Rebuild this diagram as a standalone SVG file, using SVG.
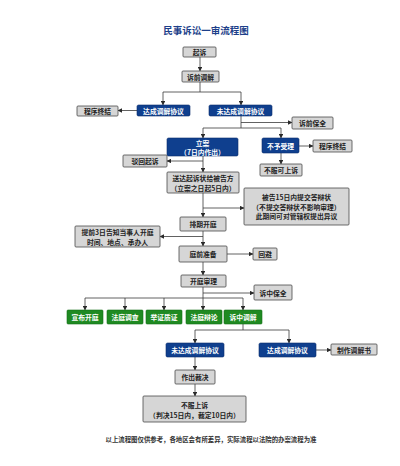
<svg xmlns="http://www.w3.org/2000/svg" width="400" height="466" viewBox="0 0 400 466">
<style>
text{font-family:"Noto Sans CJK SC","Liberation Sans",sans-serif;text-anchor:middle;dominant-baseline:central;font-weight:700}
.g rect{fill:#d6d6d6;stroke:#4a4a4a;stroke-width:0.8}
.g text{fill:#222;font-size:6.8px}
.b rect{fill:#0f3f8e;stroke:#0a2e6b;stroke-width:0.6}
.b text{fill:#fff;font-size:6.8px}
.n rect{fill:#1f8a22;stroke:#16701a;stroke-width:0.6}
.n text{fill:#fff;font-size:6.8px}
#connectors path{fill:none;stroke:#3a3a3a;stroke-width:0.8}
#connectors path.a{marker-end:url(#ah)}
</style>
<defs>
<marker id="ah" viewBox="0 0 6 6" refX="5.5" refY="3" markerWidth="4.5" markerHeight="4.5" orient="auto" markerUnits="userSpaceOnUse">
<path d="M0,0 L6,3 L0,6 z" fill="#2a2a2a"/>
</marker>
</defs>
<rect width="400" height="466" fill="#fff"/>
<text x="206" y="30" font-size="9.5" fill="#1d3f8a">民事诉讼一审流程图</text>

<g id="connectors">
<path class="a" d="M200,57 V71"/>
<path d="M200,82 V92 M163,92 H241"/>
<path class="a" d="M163,92 V105"/>
<path class="a" d="M241,92 V105"/>
<path class="a" d="M137,110.5 H118"/>
<path d="M241,116 V128 M203,128 H281"/>
<path class="a" d="M241,122.5 H292"/>
<path class="a" d="M203,128 V138"/>
<path class="a" d="M281,128 V138"/>
<path class="a" d="M299,146 H313"/>
<path class="a" d="M281,153 V164"/>
<path class="a" d="M203,156 V172"/>
<path class="a" d="M203,161 H167"/>
<path class="a" d="M203,193 V217"/>
<path class="a" d="M203,208 H244"/>
<path class="a" d="M203,231 V246"/>
<path class="a" d="M203,236.5 H160"/>
<path class="a" d="M227,254 H253"/>
<path class="a" d="M203,262 V275"/>
<path d="M203,287 V298 M85,298 H243"/>
<path class="a" d="M203,293 H254"/>
<path class="a" d="M85,298 V310"/>
<path class="a" d="M125,298 V310"/>
<path class="a" d="M164,298 V310"/>
<path class="a" d="M203,298 V310"/>
<path class="a" d="M243,298 V310"/>
<path d="M243,324 V330 M195,330 H289"/>
<path class="a" d="M195,330 V343"/>
<path class="a" d="M289,330 V343"/>
<path class="a" d="M316,350 H331"/>
<path class="a" d="M195,357 V370"/>
<path class="a" d="M195,384 V396"/>
</g>

<g id="n1" class="g"><rect x="183" y="47" width="33" height="10" rx="1"/><text x="199.5" y="52">起诉</text></g>
<g id="n2" class="g"><rect x="182" y="71" width="37" height="11" rx="1"/><text x="200.5" y="76.5">诉前调解</text></g>
<g id="n3" class="b"><rect x="137" y="105" width="53" height="11" rx="1.5"/><text x="163.5" y="110.5">达成调解协议</text></g>
<g id="n4" class="g"><rect x="77" y="106" width="41" height="10" rx="1"/><text x="97.5" y="111">程序终结</text></g>
<g id="n5" class="b"><rect x="209" y="105" width="63" height="11" rx="1.5"/><text x="240.5" y="110.5">未达成调解协议</text></g>
<g id="n6" class="g"><rect x="292" y="117" width="41" height="12" rx="1"/><text x="312.5" y="123">诉前保全</text></g>
<g id="n7" class="b"><rect x="167" y="138" width="71" height="18" rx="1.5"/><text x="202.5" y="143">立案</text><text x="202.5" y="152">（7日内作出）</text></g>
<g id="n8" class="b"><rect x="262" y="138" width="37" height="15" rx="1.5"/><text x="280.5" y="145.5">不予受理</text></g>
<g id="n9" class="g"><rect x="313" y="140" width="39" height="12" rx="1"/><text x="332.5" y="146">程序终结</text></g>
<g id="n10" class="g"><rect x="260" y="164" width="42" height="12" rx="1"/><text x="281" y="170">不服可上诉</text></g>
<g id="n11" class="g"><rect x="123" y="155" width="44" height="12" rx="1"/><text x="145" y="161">驳回起诉</text></g>
<g id="n12" class="g"><rect x="167" y="172" width="72" height="21" rx="1"/><text x="203" y="177.5">送达起诉状给被告方</text><text x="203" y="187.5">（立案之日起5日内）</text></g>
<g id="n13" class="g"><rect x="244" y="188" width="105" height="37" rx="1"/><text x="296.5" y="197">被告15日内提交答辩状</text><text x="296.5" y="206.5">（不提交答辩状不影响审理）</text><text x="296.5" y="216">此期间可对管辖权提出异议</text></g>
<g id="n14" class="g"><rect x="180" y="217" width="46" height="14" rx="1"/><text x="203" y="224">排期开庭</text></g>
<g id="n15" class="g"><rect x="75" y="226" width="85" height="21" rx="1"/><text x="117.5" y="232">提前3日告知当事人开庭</text><text x="117.5" y="242">时间、地点、承办人</text></g>
<g id="n16" class="g"><rect x="179" y="246" width="48" height="16" rx="1"/><text x="203" y="254">庭前准备</text></g>
<g id="n17" class="g"><rect x="253" y="248" width="24" height="12" rx="1"/><text x="265" y="254">回避</text></g>
<g id="n18" class="g"><rect x="181" y="275" width="45" height="12" rx="1"/><text x="203.5" y="281">开庭审理</text></g>
<g id="n19" class="g"><rect x="254" y="285" width="38" height="15" rx="1"/><text x="273" y="292.5">诉中保全</text></g>
<g id="n20" class="n"><rect x="67" y="310" width="36" height="14" rx="1"/><text x="85" y="317">宣布开庭</text></g>
<g id="n21" class="n"><rect x="107" y="310" width="36" height="14" rx="1"/><text x="125" y="317">法庭调查</text></g>
<g id="n22" class="n"><rect x="146" y="310" width="36" height="14" rx="1"/><text x="164" y="317">举证质证</text></g>
<g id="n23" class="n"><rect x="186" y="310" width="36" height="14" rx="1"/><text x="204" y="317">法庭辩论</text></g>
<g id="n24" class="n"><rect x="224" y="310" width="38" height="14" rx="1"/><text x="243" y="317">诉中调解</text></g>
<g id="n25" class="b"><rect x="166" y="343" width="58" height="14" rx="1.5"/><text x="195" y="350">未达成调解协议</text></g>
<g id="n26" class="b"><rect x="259" y="343" width="57" height="14" rx="1.5"/><text x="287.5" y="350">达成调解协议</text></g>
<g id="n27" class="g"><rect x="331" y="344" width="46" height="11" rx="1"/><text x="354" y="349.5">制作调解书</text></g>
<g id="n28" class="g"><rect x="175" y="370" width="40" height="14" rx="1"/><text x="195" y="377">作出裁决</text></g>
<g id="n29" class="g"><rect x="143" y="396" width="103" height="26" rx="1"/><text x="194.5" y="404.5">不服上诉</text><text x="194.5" y="414.5">（判决15日内，裁定10日内）</text></g>

<text x="211" y="439" font-size="6.4" fill="#333">以上流程图仅供参考，各地区会有所差异，实际流程以法院的办案流程为准</text>
</svg>
